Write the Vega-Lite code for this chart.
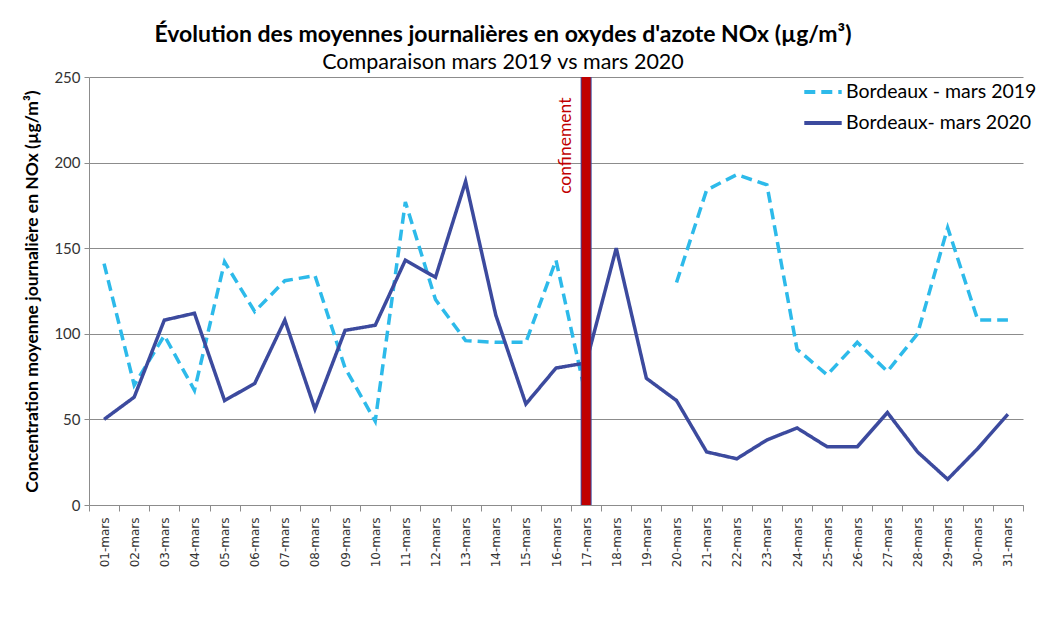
{
  "$schema": "https://vega.github.io/schema/vega-lite/v6.json",
  "width": 934,
  "height": 428,
  "autosize": {"type": "none"},
  "padding": {"left": 89, "top": 77, "right": 39, "bottom": 136},
  "background": "white",
  "config": {"view": {"stroke": null}, "font": "Lato"},
  "title": {
    "text": "Évolution des moyennes journalières en oxydes d'azote NOx (µg/m³)",
    "subtitle": "Comparaison mars 2019 vs mars 2020",
    "anchor": "middle",
    "frame": "group",
    "dx": -53,
    "offset": -3,
    "font": "Lato",
    "fontSize": 23,
    "fontWeight": "bold",
    "color": "#000000",
    "subtitleFont": "Lato",
    "subtitleFontSize": 21.5,
    "subtitleColor": "#000000",
    "subtitlePadding": 5
  },
  "datasets": {
    "nox": [
      {"date": "01-mars", "series": "Bordeaux - mars 2019", "value": 141},
      {"date": "02-mars", "series": "Bordeaux - mars 2019", "value": 70},
      {"date": "03-mars", "series": "Bordeaux - mars 2019", "value": 99},
      {"date": "04-mars", "series": "Bordeaux - mars 2019", "value": 67},
      {"date": "05-mars", "series": "Bordeaux - mars 2019", "value": 142},
      {"date": "06-mars", "series": "Bordeaux - mars 2019", "value": 113},
      {"date": "07-mars", "series": "Bordeaux - mars 2019", "value": 131},
      {"date": "08-mars", "series": "Bordeaux - mars 2019", "value": 134},
      {"date": "09-mars", "series": "Bordeaux - mars 2019", "value": 80},
      {"date": "10-mars", "series": "Bordeaux - mars 2019", "value": 49},
      {"date": "11-mars", "series": "Bordeaux - mars 2019", "value": 177},
      {"date": "12-mars", "series": "Bordeaux - mars 2019", "value": 120},
      {"date": "13-mars", "series": "Bordeaux - mars 2019", "value": 96},
      {"date": "14-mars", "series": "Bordeaux - mars 2019", "value": 95},
      {"date": "15-mars", "series": "Bordeaux - mars 2019", "value": 95},
      {"date": "16-mars", "series": "Bordeaux - mars 2019", "value": 143},
      {"date": "17-mars", "series": "Bordeaux - mars 2019", "value": 63},
      {"date": "18-mars", "series": "Bordeaux - mars 2019", "value": null},
      {"date": "19-mars", "series": "Bordeaux - mars 2019", "value": null},
      {"date": "20-mars", "series": "Bordeaux - mars 2019", "value": 130},
      {"date": "21-mars", "series": "Bordeaux - mars 2019", "value": 184},
      {"date": "22-mars", "series": "Bordeaux - mars 2019", "value": 193},
      {"date": "23-mars", "series": "Bordeaux - mars 2019", "value": 187},
      {"date": "24-mars", "series": "Bordeaux - mars 2019", "value": 91},
      {"date": "25-mars", "series": "Bordeaux - mars 2019", "value": 76},
      {"date": "26-mars", "series": "Bordeaux - mars 2019", "value": 95},
      {"date": "27-mars", "series": "Bordeaux - mars 2019", "value": 78},
      {"date": "28-mars", "series": "Bordeaux - mars 2019", "value": 100},
      {"date": "29-mars", "series": "Bordeaux - mars 2019", "value": 162},
      {"date": "30-mars", "series": "Bordeaux - mars 2019", "value": 108},
      {"date": "31-mars", "series": "Bordeaux - mars 2019", "value": 108},
      {"date": "01-mars", "series": "Bordeaux- mars 2020", "value": 50},
      {"date": "02-mars", "series": "Bordeaux- mars 2020", "value": 63},
      {"date": "03-mars", "series": "Bordeaux- mars 2020", "value": 108},
      {"date": "04-mars", "series": "Bordeaux- mars 2020", "value": 112},
      {"date": "05-mars", "series": "Bordeaux- mars 2020", "value": 61},
      {"date": "06-mars", "series": "Bordeaux- mars 2020", "value": 71},
      {"date": "07-mars", "series": "Bordeaux- mars 2020", "value": 108},
      {"date": "08-mars", "series": "Bordeaux- mars 2020", "value": 56},
      {"date": "09-mars", "series": "Bordeaux- mars 2020", "value": 102},
      {"date": "10-mars", "series": "Bordeaux- mars 2020", "value": 105},
      {"date": "11-mars", "series": "Bordeaux- mars 2020", "value": 143},
      {"date": "12-mars", "series": "Bordeaux- mars 2020", "value": 133},
      {"date": "13-mars", "series": "Bordeaux- mars 2020", "value": 189},
      {"date": "14-mars", "series": "Bordeaux- mars 2020", "value": 111},
      {"date": "15-mars", "series": "Bordeaux- mars 2020", "value": 59},
      {"date": "16-mars", "series": "Bordeaux- mars 2020", "value": 80},
      {"date": "17-mars", "series": "Bordeaux- mars 2020", "value": 83},
      {"date": "18-mars", "series": "Bordeaux- mars 2020", "value": 150},
      {"date": "19-mars", "series": "Bordeaux- mars 2020", "value": 74},
      {"date": "20-mars", "series": "Bordeaux- mars 2020", "value": 61},
      {"date": "21-mars", "series": "Bordeaux- mars 2020", "value": 31},
      {"date": "22-mars", "series": "Bordeaux- mars 2020", "value": 27},
      {"date": "23-mars", "series": "Bordeaux- mars 2020", "value": 38},
      {"date": "24-mars", "series": "Bordeaux- mars 2020", "value": 45},
      {"date": "25-mars", "series": "Bordeaux- mars 2020", "value": 34},
      {"date": "26-mars", "series": "Bordeaux- mars 2020", "value": 34},
      {"date": "27-mars", "series": "Bordeaux- mars 2020", "value": 54},
      {"date": "28-mars", "series": "Bordeaux- mars 2020", "value": 31},
      {"date": "29-mars", "series": "Bordeaux- mars 2020", "value": 15},
      {"date": "30-mars", "series": "Bordeaux- mars 2020", "value": 33},
      {"date": "31-mars", "series": "Bordeaux- mars 2020", "value": 53}
    ],
    "event": [
      {"date": "17-mars", "label": "confinement", "top": 238}
    ]
  },
  "encoding": {
    "x": {
      "field": "date",
      "type": "nominal",
      "sort": null,
      "scale": {"type": "band", "paddingInner": 0, "paddingOuter": 0},
      "axis": {
        "title": null,
        "labelAngle": 270,
        "labelAlign": "right",
        "labelBaseline": "middle",
        "labelFont": "DejaVu Sans",
        "labelFontSize": 12,
        "labelColor": "#333333",
        "labelPadding": 6,
        "tickBand": "extent",
        "tickSize": 6,
        "tickColor": "#8c8c8c",
        "domainColor": "#8c8c8c",
        "grid": false
      }
    }
  },
  "layer": [
    {
      "data": {"name": "nox"},
      "mark": {"type": "line", "strokeWidth": 3.5},
      "encoding": {
        "x": {"field": "date", "type": "nominal", "sort": null},
        "y": {
          "field": "value",
          "type": "quantitative",
          "scale": {"domain": [0, 250], "nice": false},
          "axis": {
            "title": "Concentration moyenne journalière en NOx (µg/m³)",
            "titleFont": "Lato",
            "titleFontSize": 17.5,
            "titleFontWeight": "bold",
            "titleColor": "#000000",
            "titlePadding": 12,
            "values": [0, 50, 100, 150, 200, 250],
            "labelFont": "Lato",
            "labelFontSize": 15,
            "labelColor": "#333333",
            "labelPadding": 4,
            "tickSize": 5,
            "tickColor": "#8c8c8c",
            "domainColor": "#8c8c8c",
            "gridColor": "#8c8c8c",
            "gridWidth": 1
          }
        },
        "color": {
          "field": "series",
          "type": "nominal",
          "scale": {"domain": ["Bordeaux - mars 2019", "Bordeaux- mars 2020"], "range": ["#2DBAEA", "#3C4A9E"]},
          "legend": {
            "title": null,
            "orient": "none",
            "legendX": 713,
            "legendY": -6,
            "symbolType": "stroke",
            "symbolSize": 1400,
            "symbolStrokeWidth": 4,
            "labelFont": "Lato",
            "labelFontSize": 19.5,
            "labelLimit": 400,
            "labelColor": "#000000",
            "labelOffset": 2,
            "rowPadding": -7
          }
        },
        "strokeDash": {
          "field": "series",
          "type": "nominal",
          "scale": {"domain": ["Bordeaux - mars 2019", "Bordeaux- mars 2020"], "range": [[11, 6], [1, 0]]},
          "legend": null
        }
      }
    },
    {
      "data": {"name": "event"},
      "mark": {"type": "rule", "stroke": "#3C4A9E", "strokeWidth": 11},
      "encoding": {"x": {"field": "date", "type": "nominal", "sort": null}}
    },
    {
      "data": {"name": "event"},
      "mark": {"type": "rule", "stroke": "#C00000", "strokeWidth": 9},
      "encoding": {"x": {"field": "date", "type": "nominal", "sort": null}}
    },
    {
      "data": {"name": "event"},
      "mark": {"type": "text", "angle": 270, "align": "right", "baseline": "middle", "dy": -20, "font": "Lato", "fontSize": 17.5, "color": "#C00000"},
      "encoding": {
        "x": {"field": "date", "type": "nominal", "sort": null},
        "y": {"field": "top", "type": "quantitative"},
        "text": {"field": "label"}
      }
    }
  ]
}
